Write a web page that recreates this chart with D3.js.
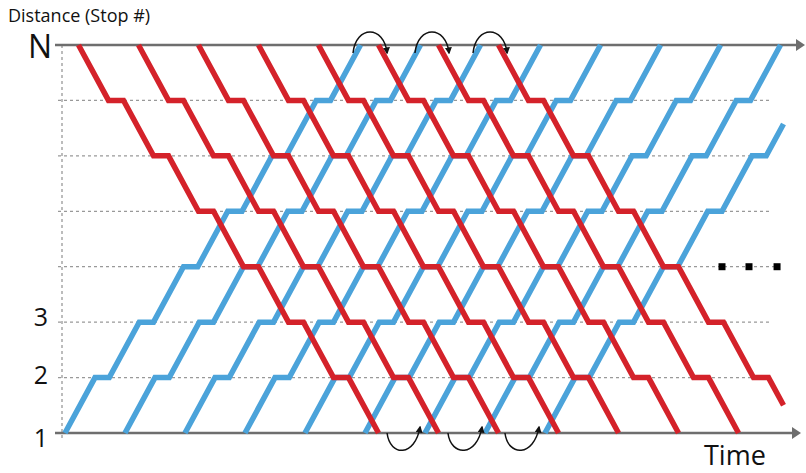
<!DOCTYPE html>
<html>
<head>
<meta charset="utf-8">
<script src="https://cdn.jsdelivr.net/npm/d3@7"></script>
<style>
  body { margin: 0; background: #fff; }
  text { font-family: "Open Sans", sans-serif; fill: #111; }
</style>
</head>
<body>
<div id="chart"></div>
<script>
// stops along the line, 1 at the bottom, N (= 8) at the top
var stops = [1, 2, 3, 4, 5, 6, 7, 8];
var stopLabels = { 1: "1", 2: "2", 3: "3", 8: "N" };

// departure times (minutes) of the up trains (blue, from stop 1) and down trains (red, from N)
var blueStarts = [0, 4, 8, 12, 16, 20, 24, 28, 32];
var redStarts = [0.9, 4.9, 8.9, 12.9, 16.9, 20.9, 24.9, 28.9];
var travelTime = 2;
var blueDwell = 0.95;
var redDwell = 1;
var endTime = 47.9;

// turnaround arrows [from, to] at the top (N) and at the bottom (stop 1)
var topTurns = [[19.2, 21.47], [23.33, 25.6], [27.2, 29.47]];
var bottomTurns = [[21.47, 23.67], [25.53, 27.8], [29.33, 31.6]];

// "more" marks on the dotted line of stop 4
var moreMarks = [43.8, 45.6, 47.47];
var moreStop = 4;

var chart = {
  width: 806,
  height: 473,
  left: 65,
  right: 785,
  top: 45,
  bottom: 433,
}

var blue = "#4ba3da";
var red = "#d4222a";
var grey = "#6e6e6e";

var x = d3.scaleLinear().domain([0, 48]).range([chart.left, chart.right]);
var y = d3.scaleLinear().domain([1, 8]).range([chart.bottom, chart.top]);

var svg = d3.select("#chart")
  .append("svg")
  .attr("width", chart.width)
  .attr("height", chart.height);

var defs = svg.append("defs");
defs.append("marker")
  .attr("id", "tip")
  .attr("viewBox", "0 0 10 10")
  .attr("refX", 8)
  .attr("refY", 5)
  .attr("markerWidth", 7)
  .attr("markerHeight", 7)
  .attr("markerUnits", "userSpaceOnUse")
  .attr("orient", "auto")
  .append("path")
  .attr("d", "M0,0 L10,5 L0,10 Z")
  .style("fill", "#111");

/* dotted grid */
svg.append("line")
  .attr("x1", 62).attr("x2", 62)
  .attr("y1", y(8)).attr("y2", y(1) + 7)
  .style("stroke", "#999").style("stroke-width", 1.3)
  .style("stroke-dasharray", "3,3");

svg.append("g")
  .selectAll("line")
  .data(stops.filter((s) => s > 1 && s < 8))
  .enter()
  .append("line")
  .attr("x1", 58)
  .attr("x2", (d) => d === moreStop ? x(moreMarks[2]) : 772)
  .attr("y1", (d) => y(d))
  .attr("y2", (d) => y(d))
  .style("stroke", "#999").style("stroke-width", 1.3)
  .style("stroke-dasharray", "3,3");

/* solid axes at stop 1 and N */
[1, 8].forEach((s) => {
  let tipX = s === 8 ? 805 : 801;
  svg.append("line")
    .attr("x1", 55).attr("x2", tipX - 6)
    .attr("y1", y(s)).attr("y2", y(s))
    .style("stroke", grey).style("stroke-width", 2.5);
  svg.append("path")
    .attr("d", `M${tipX},${y(s)} L${tipX - 9},${y(s) - 6} L${tipX - 9},${y(s) + 6} Z`)
    .style("fill", grey);
});

/* trains */
function trip(start, from, to, dwell) {
  let step = from < to ? 1 : -1;
  let t = start;
  let pts = [[t, from]];
  for (let s = from + step; s !== to + step; s += step) {
    t += travelTime;
    pts.push([t, s]);
    if (s !== to) {
      t += dwell;
      pts.push([t, s]);
    }
  }
  // cut at the right edge of the picture
  let out = [pts[0]];
  for (let i = 1; i < pts.length; i++) {
    let a = pts[i - 1], b = pts[i];
    if (b[0] <= endTime) {
      out.push(b);
    } else {
      let f = (endTime - a[0]) / (b[0] - a[0]);
      out.push([endTime, a[1] + f * (b[1] - a[1])]);
      break;
    }
  }
  return out;
}

var line = d3.line()
  .x((d) => x(d[0]))
  .y((d) => y(d[1]));

svg.append("g")
  .selectAll("path")
  .data(blueStarts.map((t) => trip(t, 1, 8, blueDwell)))
  .enter()
  .append("path")
  .attr("d", line)
  .style("fill", "none")
  .style("stroke", blue)
  .style("stroke-width", 5.5)
  .style("stroke-linejoin", "miter");

svg.append("g")
  .selectAll("path")
  .data(redStarts.map((t) => trip(t, 8, 1, redDwell)))
  .enter()
  .append("path")
  .attr("d", line)
  .style("fill", "none")
  .style("stroke", red)
  .style("stroke-width", 5.5)
  .style("stroke-linejoin", "miter");

/* turnaround arrows */
svg.append("g")
  .selectAll("path")
  .data(topTurns)
  .enter()
  .append("path")
  .attr("d", (d) => {
    let x1 = x(d[0]), x2 = x(d[1]), y0 = y(8) + 8;
    return `M${x1},${y0} C${x1 + 3},${y0 - 28} ${x2 - 3},${y0 - 28} ${x2},${y0}`;
  })
  .style("fill", "none")
  .style("stroke", "#111")
  .style("stroke-width", 1.5)
  .attr("marker-end", "url(#tip)");

svg.append("g")
  .selectAll("path")
  .data(bottomTurns)
  .enter()
  .append("path")
  .attr("d", (d) => {
    let x1 = x(d[0]), x2 = x(d[1]), y0 = y(1);
    return `M${x1},${y0} C${x1 + 3},${y0 + 24} ${x2 - 5},${y0 + 24} ${x2},${y0 - 6}`;
  })
  .style("fill", "none")
  .style("stroke", "#111")
  .style("stroke-width", 1.5)
  .attr("marker-end", "url(#tip)");

/* more marks */
svg.append("g")
  .selectAll("rect")
  .data(moreMarks)
  .enter()
  .append("rect")
  .attr("x", (d) => x(d) - 3.5)
  .attr("y", y(moreStop) - 3.5)
  .attr("width", 7)
  .attr("height", 7)
  .style("fill", "#000");

/* stop labels */
var labelNudge = { 1: 14, 2: 6, 3: 4, 8: 13 };
svg.append("g")
  .selectAll("text")
  .data(Object.keys(stopLabels).map(Number))
  .enter()
  .append("text")
  .attr("x", (d) => d === 8 ? 52 : 48)
  .attr("y", (d) => y(d) + labelNudge[d])
  .attr("text-anchor", "end")
  .style("font-size", (d) => d === 8 ? "32px" : "25px")
  .text((d) => stopLabels[d]);

svg.append("text")
  .attr("x", 8).attr("y", 22)
  .style("font-size", "18px")
  .text("Distance (Stop #)");

svg.append("text")
  .attr("x", 704).attr("y", 465)
  .style("font-size", "27px")
  .text("Time");
</script>
</body>
</html>
